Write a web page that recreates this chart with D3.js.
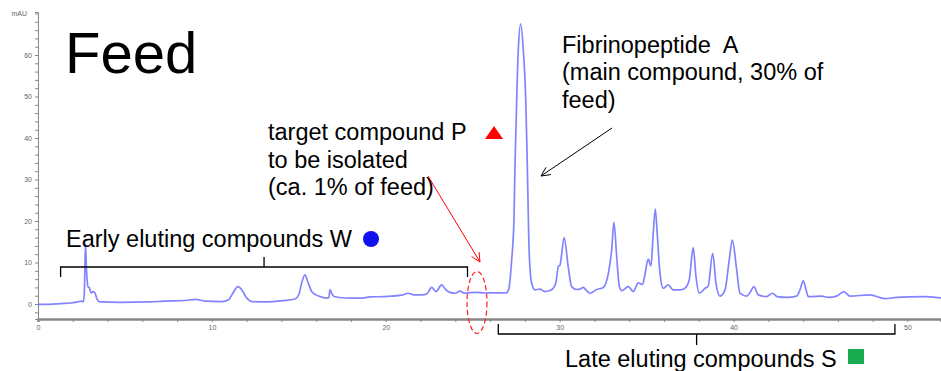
<!DOCTYPE html>
<html>
<head>
<meta charset="utf-8">
<script src="https://cdn.jsdelivr.net/npm/d3@7"></script>
<style>
  body { margin: 0; background: #fff; }
  svg { display: block; font-family: "Liberation Sans", Arial, sans-serif; }
  .axis path, .axis line { stroke: #888; }
  .axis text { fill: #666; font-size: 7px; }
  .note { font-size: 23.5px; fill: #000; }
</style>
</head>
<body>
<script>
const width = 941;
const height = 371;

// retention time (min) and absorbance (mAU)
const times = [0, 0.69, 1.27, 1.84, 2.30, 2.47, 2.62, 2.67, 2.73, 2.79, 2.88, 2.96, 3.05, 3.16, 3.28, 3.39, 3.57,
  4.72, 6.44, 7.25, 8.45, 9.09, 9.60, 10.58, 10.98, 11.21, 11.50, 11.73, 11.96, 12.31, 13.05, 14.09, 14.78,
  15.01, 15.18, 15.35, 15.52, 15.74, 15.99, 16.22, 16.62, 16.73, 16.79, 16.88, 17.02, 17.65, 18.52, 19.09,
  19.95, 20.99, 21.28, 21.62, 22.08, 22.37, 22.64, 22.89, 23.21, 23.46, 23.69, 23.98, 24.27, 24.55, 24.90,
  25.24, 25.70, 26.28, 26.91, 27.06, 27.24, 27.37, 27.43, 27.53, 27.62, 27.76, 27.91, 28.05, 28.14, 28.25,
  28.39, 28.58, 28.87, 29.15, 29.44, 29.63, 29.79, 29.92, 30.02, 30.26, 30.49, 30.69, 30.98, 31.17, 31.36,
  31.51, 31.74, 32.13, 32.51, 32.80, 32.99, 33.12, 33.28, 33.43, 33.57, 33.95, 34.23, 34.52, 34.77, 34.90,
  35.09, 35.25, 35.38, 35.50, 35.61, 35.77, 35.96, 36.24, 36.53, 36.92, 37.20, 37.45, 37.68, 37.84, 38.03,
  38.36, 38.54, 38.80, 38.99, 39.22, 39.51, 39.75, 39.93, 40.18, 40.37, 40.75, 40.98, 41.17, 41.42, 41.90,
  42.24, 42.50, 43.07, 43.63, 43.82, 44.01, 44.17, 44.30, 45.07, 45.45, 45.93, 46.35, 46.69, 47.84, 48.70,
  49.38, 50.91, 51.93];
const mAU = [-0.1, -0.1, 0.1, 0.25, 0.5, 0.7, 0.6, 3.4, 14.5, 8.2, 4.1, 3.9, 2.65, 3.0, 2.65, 1.2, 0.5,
  0.4, 0.5, 0.7, 0.85, 1.1, 0.7, 0.6, 1.1, 2.65, 4.2, 3.4, 1.7, 0.6, 0.5, 0.8, 1.2,
  2.4, 5.3, 7.0, 5.3, 3.0, 2.2, 1.8, 1.4, 1.55, 3.5, 2.65, 1.8, 1.45, 1.4, 1.7,
  1.8, 2.2, 2.6, 2.2, 2.2, 2.5, 4.0, 3.0, 4.6, 3.4, 2.8, 2.6, 3.1, 2.6, 2.75,
  2.8, 2.65, 2.7, 2.65, 3.4, 10.6, 20.2, 33.1, 49.2, 61.2, 67.5, 61.2, 49.2, 33.1, 12.2,
  5.0, 3.4, 3.6, 3.0, 3.25, 3.8, 5.3, 9.0, 9.4, 16.0, 9.0, 4.2, 3.5, 3.6, 4.0,
  3.4, 2.6, 3.5, 4.0, 7.4, 13.0, 19.7, 11.4, 4.2, 3.2, 4.2, 3.0, 5.1, 4.7, 7.0,
  10.8, 9.2, 17.0, 22.9, 17.0, 7.4, 3.8, 4.6, 3.4, 3.4, 3.8, 5.8, 13.6, 6.6, 2.6,
  3.8, 4.3, 12.2, 5.0, 1.9, 3.4, 10.6, 15.4, 8.2, 2.6, 1.9, 3.0, 4.2, 2.2, 1.8,
  2.6, 1.8, 1.6, 1.9, 3.4, 5.6, 3.4, 1.8, 1.9, 1.6, 1.9, 3.0, 1.9, 2.2, 1.3,
  1.6, 1.8, 1.5];

const xMajor = [0, 10, 20, 30, 40, 50];
const yMajor = [0, 10, 20, 30, 40, 50, 60];

// bracket ranges (min) for the two compound groups
const earlyRange = [1.3, 24.7];
const lateRange = [26.47, 49.28];

const svg = d3.select("body")
  .append("svg")
  .attr("width", width)
  .attr("height", height);

const x = d3.scaleLinear().domain([0, 51.93]).range([38, 941]);
const y = d3.scaleLinear().domain([-3.61, 70.36]).range([319, 12]);

// axes
svg.append("g")
  .attr("class", "axis")
  .attr("transform", "translate(38,0)")
  .call(d3.axisLeft(y)
    .tickValues(d3.range(-2, 71, 2))
    .tickSize(3)
    .tickPadding(3)
    .tickFormat(d => yMajor.includes(d) ? d : ""))
  .call(g => g.select(".domain").attr("stroke", "#666").attr("stroke-width", 1));

svg.append("text")
  .attr("x", 27)
  .attr("y", 16)
  .attr("text-anchor", "end")
  .attr("font-size", "7px")
  .attr("fill", "#666")
  .text("mAU");

svg.append("g")
  .attr("class", "axis")
  .attr("transform", "translate(0,319)")
  .call(d3.axisBottom(x)
    .tickValues(d3.range(0, 52, 2))
    .tickSize(3)
    .tickPadding(3)
    .tickFormat(d => xMajor.includes(d) ? d : ""))
  .call(g => g.select(".domain").attr("stroke", "#bbb").attr("stroke-width", 2.5));

// chromatogram trace
const data = times.map((t, i) => [t, mAU[i]]);
const line = d3.line()
  .x(d => x(d[0]))
  .y(d => y(d[1]))
  .curve(d3.curveMonotoneX);

svg.append("path")
  .datum(data)
  .attr("fill", "none")
  .attr("stroke", "#6464ff")
  .attr("stroke-opacity", 0.8)
  .attr("stroke-width", 1.7)
  .attr("stroke-linejoin", "round")
  .attr("d", line);

// annotations
svg.append("text")
  .attr("x", 65)
  .attr("y", 73)
  .attr("font-size", "58px")
  .text("Feed");

const fib = svg.append("text").attr("class", "note");
["Fibrinopeptide\u00a0 A", "(main compound, 30% of", "feed)"].forEach((s, i) => {
  fib.append("tspan").attr("x", 562).attr("y", 53 + i * 27.3).text(s);
});

const tgt = svg.append("text").attr("class", "note");
["target compound P", "to be isolated", "(ca. 1% of feed)"].forEach((s, i) => {
  tgt.append("tspan").attr("x", 268).attr("y", 140 + i * 27.5).text(s);
});

svg.append("path")
  .attr("d", "M485,139 L494,126 L503,139 Z")
  .attr("fill", "#ff0000");

svg.append("text")
  .attr("class", "note")
  .attr("x", 66)
  .attr("y", 247)
  .text("Early eluting compounds W");

svg.append("circle")
  .attr("cx", 371)
  .attr("cy", 239)
  .attr("r", 8)
  .attr("fill", "#1111ee");

svg.append("text")
  .attr("class", "note")
  .attr("x", 565)
  .attr("y", 367)
  .text("Late eluting compounds S");

svg.append("rect")
  .attr("x", 848)
  .attr("y", 349)
  .attr("width", 16)
  .attr("height", 15)
  .attr("fill", "#1aaa50");

// brackets
function bracket(r, yLine, tipDir, stemLen) {
  const x0 = x(r[0]), x1 = x(r[1]), xm = (x0 + x1) / 2;
  svg.append("path")
    .attr("d", `M${x0},${yLine + tipDir * 10}V${yLine}H${x1}V${yLine + tipDir * 10}M${xm},${yLine}V${yLine - tipDir * stemLen}`)
    .attr("fill", "none")
    .attr("stroke", "#000")
    .attr("stroke-width", 1.3);
}
bracket(earlyRange, 267, 1, 10);
bracket(lateRange, 334, -1, 11);

// arrows
function arrow(x0, y0, x1, y1, color, w) {
  const a = Math.atan2(y1 - y0, x1 - x0);
  const len = 10, spread = 0.45;
  const p1 = [x1 - len * Math.cos(a - spread), y1 - len * Math.sin(a - spread)];
  const p2 = [x1 - len * Math.cos(a + spread), y1 - len * Math.sin(a + spread)];
  svg.append("path")
    .attr("d", `M${x0},${y0}L${x1},${y1}M${p1[0]},${p1[1]}L${x1},${y1}L${p2[0]},${p2[1]}`)
    .attr("fill", "none")
    .attr("stroke", color)
    .attr("stroke-width", w);
}
arrow(612, 128, 541, 176, "#000", 1);
arrow(428, 176, 480, 262, "#ff0000", 1);

// dashed ellipse around target zone
svg.append("ellipse")
  .attr("cx", 477)
  .attr("cy", 302.5)
  .attr("rx", 10)
  .attr("ry", 31)
  .attr("fill", "none")
  .attr("stroke", "#ff2020")
  .attr("stroke-width", 1.2)
  .attr("stroke-dasharray", "5,3");
</script>
</body>
</html>
